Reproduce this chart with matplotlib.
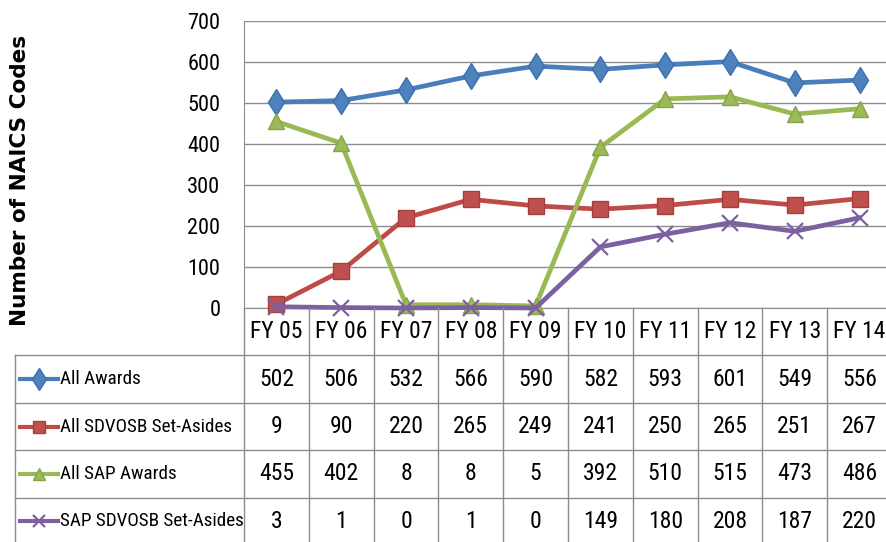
import numpy as np
import matplotlib.pyplot as plt
from matplotlib import font_manager

years = ['FY 05', 'FY 06', 'FY 07', 'FY 08', 'FY 09',
         'FY 10', 'FY 11', 'FY 12', 'FY 13', 'FY 14']
all_awards = [502, 506, 532, 566, 590, 582, 593, 601, 549, 556]
all_sdvosb = [9, 90, 220, 265, 249, 241, 250, 265, 251, 267]
all_sap = [455, 402, 8, 8, 5, 392, 510, 515, 473, 486]
sap_sdvosb = [3, 1, 0, 1, 0, 149, 180, 208, 187, 220]
series_names = ['All Awards', 'All SDVOSB Set-Asides',
                'All SAP Awards', 'SAP SDVOSB Set-Asides']
y_ticks = [0, 100, 200, 300, 400, 500, 600, 700]

# look for a narrow font (the chart uses a condensed face)
fonts = font_manager.fontManager.ttflist
names = {f.name for f in fonts}
narrow = dict(family='Liberation Sans')
scale = 0.82
for cand in ['Liberation Sans Narrow', 'DejaVu Sans Condensed',
             'Roboto Condensed', 'Open Sans Condensed']:
    if cand in names:
        narrow = dict(family=cand)
        scale = 1.0
        break
else:
    if any(f.name == 'DejaVu Sans' and f.stretch == 'condensed' for f in fonts):
        narrow = dict(family='DejaVu Sans', fontstretch='condensed')
        scale = 0.85

W, H = 886, 542
fig = plt.figure(figsize=(W / 100, H / 100), dpi=100)

# plot area in pixels
x0, x1 = 244, 892
y_top, y_bot, y_tab = 21, 308, 545


def rect(l, t, r, b):
    return [l / W, 1 - b / H, (r - l) / W, (b - t) / H]


ax = fig.add_axes(rect(x0, y_top, x1, y_bot))
tab = fig.add_axes(rect(x0, y_bot, x1, y_tab))

grid_col = '#8c8c8c'
styles = [
    dict(color='#4a7ebb', marker='d', ms=13, mfc='#4f81bd', mec='#3d6fae'),
    dict(color='#be4b48', marker='s', ms=11, mfc='#c0504d', mec='#a53f3c'),
    dict(color='#98b954', marker='^', ms=11, mfc='#9bbb59', mec='#86a448'),
    dict(color='#7d60a0', marker='x', ms=11, mew=1.6, mec='#7d60a0'),
]
values = [all_awards, all_sdvosb, all_sap, sap_sdvosb]

x = np.arange(len(years))
for vals, st in zip(values, styles):
    ax.plot(x, vals, lw=3.4, clip_on=False, zorder=3, **st)

ax.set_xlim(-0.5, len(years) - 0.5)
ax.set_ylim(0, 700)
ax.set_yticks(y_ticks)
ax.set_xticks([])
ax.grid(axis='y', color=grid_col, lw=1)
ax.set_axisbelow(True)
for s in ['top', 'right']:
    ax.spines[s].set_visible(False)
for s in ['left', 'bottom']:
    ax.spines[s].set_color(grid_col)
ax.tick_params(axis='y', length=0, pad=17)
for lbl in ax.get_yticklabels():
    lbl.set_fontsize(16 * scale)
    lbl.set_fontfamily(narrow['family'])
    if 'fontstretch' in narrow:
        lbl.set_fontstretch(narrow['fontstretch'])

fig.text(20 / W, 1 - 180 / H, 'Number of NAICS Codes', rotation=90,
         ha='center', va='center', fontsize=15.5, fontweight='bold',
         family='DejaVu Sans')

# data table below the plot
n_rows = len(series_names) + 1
tab.set_xlim(-0.5, len(years) - 0.5)
tab.set_ylim(n_rows, 0)
tab.axis('off')

unit = (x1 - x0) / len(years)


def px(p):
    return -0.5 + (p - x0) / unit


left_edge = px(15)
lc = dict(color=grid_col, lw=1, clip_on=False)
tab.plot([-0.5, -0.5], [0, n_rows], **lc)
for i in range(len(years)):
    tab.plot([i + 0.5, i + 0.5], [0, n_rows], **lc)
for r in range(1, n_rows):
    tab.plot([left_edge, len(years) - 0.5], [r, r], **lc)
tab.plot([left_edge, left_edge], [1, n_rows], **lc)

for i, yr in enumerate(years):
    tab.text(i, 0.5, yr, ha='center', va='center', fontsize=17 * scale,
             **narrow)

name_size = 13.8 * scale if scale == 1.0 else 12.5
for r, (name, vals, st) in enumerate(zip(series_names, values, styles)):
    yy = r + 1.5
    tab.plot([px(20), px(58)], [yy, yy], lw=3, color=st['color'],
             clip_on=False)
    mst = {k: v for k, v in st.items() if k != 'color'}
    mst['ms'] = mst['ms'] * 0.85
    tab.plot([px(39)], [yy], clip_on=False, **mst)
    tab.text(px(60), yy, name, ha='left', va='center', fontsize=name_size,
             **narrow)
    for i, v in enumerate(vals):
        tab.text(i, yy, str(v), ha='center', va='center',
                 fontsize=17 * scale, **narrow)

fig.savefig('out.png', dpi=100)
